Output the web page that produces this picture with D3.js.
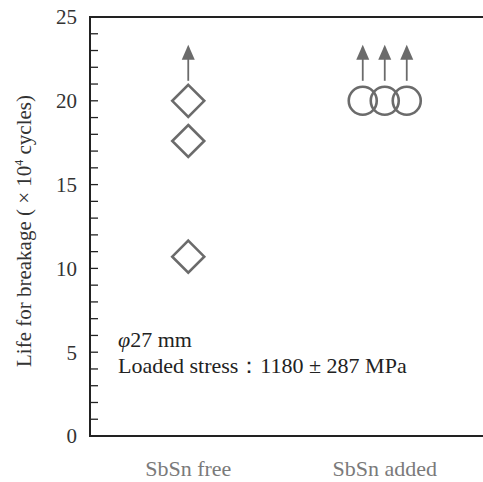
<!DOCTYPE html>
<html>
<head>
<meta charset="utf-8">
<script src="https://cdn.jsdelivr.net/npm/d3@7"></script>
<style>
  body { margin: 0; background: #fff; }
  text { font-family: "Liberation Serif", "DejaVu Serif", serif; }
</style>
</head>
<body>
<svg width="483" height="482"></svg>
<script>
// data
const categories = ["SbSn free", "SbSn added"];
const freeLife = [20, 17.6, 10.7];
const freeRunout = [true, false, false];
const addedLife = [20, 20, 20];
const addedRunout = [true, true, true];
const yTicks = [0, 5, 10, 15, 20, 25];

const svg = d3.select("svg");
const margin = { top: 17, right: 0, bottom: 46, left: 90 };
const width = +svg.attr("width") - margin.left - margin.right;
const height = +svg.attr("height") - margin.top - margin.bottom;
const g = svg.append("g").attr("transform", `translate(${margin.left},${margin.top})`);

const x = d3.scalePoint().domain(categories).range([0, width]).padding(0.5);
const y = d3.scaleLinear().domain([0, 25]).range([height, 0]);

const grey = "#6b6b6b";
const axisCol = "#222";

// minor ticks every unit, inward
g.selectAll(".tick")
  .data(d3.range(1, 25))
  .enter()
  .append("line")
  .attr("x1", 0)
  .attr("x2", 8)
  .attr("y1", d => y(d))
  .attr("y2", d => y(d))
  .style("stroke", axisCol)
  .style("stroke-width", 1.3);

// frame: left, bottom, top
g.append("path")
  .attr("d", `M${width},${y(25)}H0V${y(0)}H${width}`)
  .style("fill", "none")
  .style("stroke", axisCol)
  .style("stroke-width", 2);

// tick labels
g.selectAll(".ylab")
  .data(yTicks)
  .enter()
  .append("text")
  .attr("x", -13)
  .attr("y", d => y(d))
  .attr("dy", "0.35em")
  .attr("text-anchor", "end")
  .style("font-size", "21px")
  .style("fill", "#333")
  .text(d => d);

// y axis title
svg.append("text")
  .attr("transform", `translate(31,${margin.top + 214}) rotate(-90)`)
  .attr("text-anchor", "middle")
  .style("font-size", "21px")
  .style("fill", "#333")
  .html("Life for breakage ( × 10<tspan dy='-8' font-size='12px'>4</tspan><tspan dy='8'> cycles)</tspan>");

// category labels
svg.selectAll(".xlab")
  .data(categories)
  .enter()
  .append("text")
  .attr("x", d => margin.left + x(d))
  .attr("y", 476)
  .attr("text-anchor", "middle")
  .style("font-size", "22px")
  .style("fill", "#7a7a7a")
  .text(d => d);

// arrow helper for run-out specimens
function arrow(cx, cyTop) {
  g.append("line")
    .attr("x1", cx).attr("x2", cx)
    .attr("y1", cyTop - 4).attr("y2", cyTop - 28)
    .style("stroke", grey)
    .style("stroke-width", 1.8);
  g.append("path")
    .attr("d", `M${cx},${cyTop - 40}L${cx - 6.5},${cyTop - 25}L${cx + 6.5},${cyTop - 25}Z`)
    .style("fill", grey);
}

// SbSn free: diamonds
const dr = 16;
freeLife.forEach((v, i) => {
  const cx = x(categories[0]);
  const cy = y(v);
  g.append("path")
    .attr("d", `M${cx},${cy - dr}L${cx + dr},${cy}L${cx},${cy + dr}L${cx - dr},${cy}Z`)
    .style("fill", "none")
    .style("stroke", grey)
    .style("stroke-width", 2.6);
  if (freeRunout[i]) arrow(cx, cy - dr);
});

// SbSn added: overlapping circles
const cr = 14;
const spread = 22;
addedLife.forEach((v, i) => {
  const cx = x(categories[1]) + (i - 1) * spread;
  const cy = y(v);
  g.append("circle")
    .attr("cx", cx)
    .attr("cy", cy)
    .attr("r", cr)
    .style("fill", "none")
    .style("stroke", grey)
    .style("stroke-width", 2.6);
  if (addedRunout[i]) arrow(cx, cy - cr - 2);
});

// annotation
g.append("text")
  .attr("x", 28)
  .attr("y", y(5) - 5)
  .style("font-size", "22px")
  .style("fill", "#222")
  .html("<tspan font-style='italic'>φ</tspan>27 mm");
g.append("text")
  .attr("x", 28)
  .attr("y", y(5) + 21)
  .style("font-size", "22px")
  .style("fill", "#222")
  .text("Loaded stress：1180 ± 287 MPa");
</script>
</body>
</html>
